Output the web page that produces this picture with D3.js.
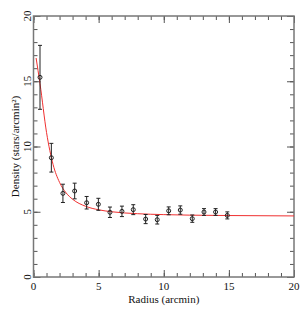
<!DOCTYPE html>
<html>
<head>
<meta charset="utf-8">
<script src="https://cdn.jsdelivr.net/npm/d3@7"></script>
<style>
  body { margin: 0; background: #fff; }
  text { font-family: "Liberation Serif", serif; font-size: 11px; fill: #111; }
</style>
</head>
<body>
<div id="chart"></div>
<script>
// points mesurés (rayon, densité, erreur)
var radius  = [0.5, 1.37, 2.26, 3.16, 4.08, 4.98, 5.87, 6.79, 7.66, 8.61, 9.5, 10.38, 11.27, 12.19, 13.09, 13.98, 14.88];
var density = [15.3, 9.14, 6.41, 6.59, 5.69, 5.57, 4.96, 5.03, 5.16, 4.44, 4.39, 5.07, 5.13, 4.47, 4.98, 4.98, 4.72];
var errors  = [2.45, 1.1, 0.7, 0.6, 0.48, 0.46, 0.4, 0.4, 0.38, 0.35, 0.33, 0.3, 0.32, 0.28, 0.26, 0.26, 0.27];

// courbe ajustée
var fitR = [0.2, 0.5, 1, 1.5, 2, 2.5, 3, 4, 5, 6, 8, 10, 12, 15, 20];
var fitD = [16.78, 14.81, 11.08, 8.63, 7.25, 6.45, 5.96, 5.42, 5.15, 5.0, 4.85, 4.78, 4.74, 4.71, 4.68];

var xTicks = [0, 5, 10, 15, 20];
var yTicks = [0, 5, 10, 15, 20];

var margin = {top: 16, right: 12, bottom: 34, left: 33.5};
var width = 306, height = 311;
var w = width - margin.left - margin.right;
var h = height - margin.top - margin.bottom;

var svg = d3.select("#chart").append("svg")
    .attr("width", width)
    .attr("height", height);

var g = svg.append("g")
    .attr("transform", "translate(" + margin.left + "," + margin.top + ")");

var x = d3.scaleLinear().domain([0, 20]).range([0, w]);
var y = d3.scaleLinear().domain([0, 20]).range([h, 0]);

var minor = d3.range(0, 21, 1);

// ticks vers l'intérieur sur les quatre côtés
function ticks(axis, scale, pos) {
    var t = g.append("g").attr("transform", pos).call(axis(scale)
        .tickValues(minor)
        .tickSize(-4)
        .tickFormat(""));
    t.select(".domain").remove();
    t.selectAll("line").attr("stroke", "#555");
    var m = g.append("g").attr("transform", pos).call(axis(scale)
        .tickValues(xTicks)
        .tickSize(-7)
        .tickFormat(""));
    m.select(".domain").remove();
    m.selectAll("line").attr("stroke", "#555");
}
ticks(d3.axisBottom, x, "translate(0," + h + ")");
ticks(d3.axisTop, x, "translate(0,0)");
ticks(d3.axisLeft, y, "translate(0,0)");
ticks(d3.axisRight, y, "translate(" + w + ",0)");

// cadre
g.append("rect")
    .attr("width", w)
    .attr("height", h)
    .attr("fill", "none")
    .attr("stroke", "#777")
    .attr("stroke-width", 1.5);

// labels des ticks
g.selectAll(".xl").data(xTicks).enter().append("text")
    .attr("x", function(d) { return x(d); })
    .attr("y", h + 13)
    .style("text-anchor", "middle")
    .text(function(d) { return d; });

g.selectAll(".yl").data(yTicks).enter().append("text")
    .attr("transform", function(d) { return "translate(-3," + y(d) + ") rotate(-90)"; })
    .style("text-anchor", "middle")
    .text(function(d) { return d; });

// titres des axes
g.append("text")
    .attr("x", w / 2)
    .attr("y", h + 26)
    .style("text-anchor", "middle")
    .text("Radius (arcmin)");

g.append("text")
    .attr("transform", "translate(-15," + (h / 2) + ") rotate(-90)")
    .style("text-anchor", "middle")
    .text("Density (stars/arcmin\u00B2)");

// courbe
var line = d3.line()
    .x(function(d) { return x(d[0]); })
    .y(function(d) { return y(d[1]); })
    .curve(d3.curveMonotoneX);

g.append("path")
    .datum(fitR.map(function(r, i) { return [r, fitD[i]]; }))
    .attr("d", line)
    .attr("fill", "none")
    .attr("stroke", "#f03030")
    .attr("stroke-width", 1);

// barres d'erreur
var pts = radius.map(function(r, i) { return {r: r, d: density[i], e: errors[i]}; });
var eb = g.selectAll(".eb").data(pts).enter().append("g")
    .attr("stroke", "#222")
    .attr("stroke-width", 1);
eb.append("line")
    .attr("x1", function(d) { return x(d.r); })
    .attr("x2", function(d) { return x(d.r); })
    .attr("y1", function(d) { return y(d.d + d.e); })
    .attr("y2", function(d) { return y(d.d - d.e); });
eb.append("line")
    .attr("x1", function(d) { return x(d.r) - 2; })
    .attr("x2", function(d) { return x(d.r) + 2; })
    .attr("y1", function(d) { return y(d.d + d.e); })
    .attr("y2", function(d) { return y(d.d + d.e); });
eb.append("line")
    .attr("x1", function(d) { return x(d.r) - 2; })
    .attr("x2", function(d) { return x(d.r) + 2; })
    .attr("y1", function(d) { return y(d.d - d.e); })
    .attr("y2", function(d) { return y(d.d - d.e); });
eb.append("circle")
    .attr("cx", function(d) { return x(d.r); })
    .attr("cy", function(d) { return y(d.d); })
    .attr("r", 2)
    .attr("fill", "none");
</script>
</body>
</html>
